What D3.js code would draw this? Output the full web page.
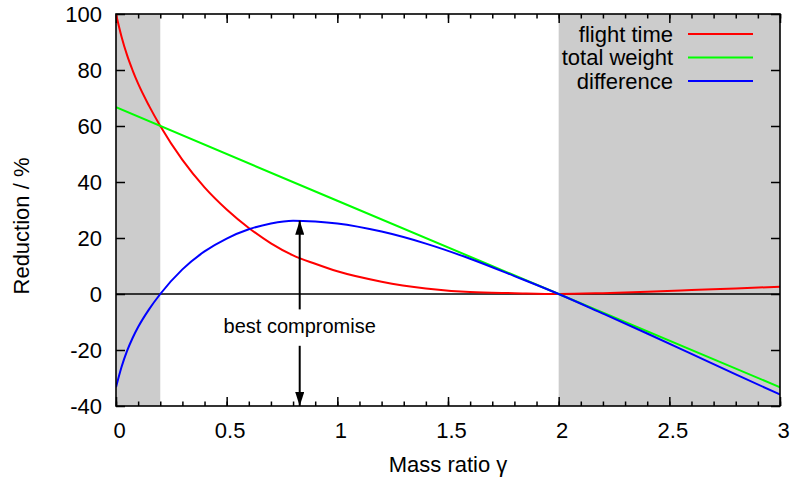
<!DOCTYPE html>
<html>
<head>
<meta charset="utf-8">
<script src="https://cdn.jsdelivr.net/npm/d3@7"></script>
<style>
  html, body { margin: 0; padding: 0; background: #fff; }
  svg { display: block; }
  text { font-family: "Liberation Sans", Arial, Helvetica, sans-serif; fill: #000; }
</style>
</head>
<body>
<svg id="chart" width="790" height="481"></svg>
<script>
// ---- data ----
const gamma = [0, 0.025, 0.05, 0.075, 0.1, 0.15, 0.2, 0.3, 0.4, 0.5, 0.6, 0.7, 0.8, 0.9, 1.0, 1.2, 1.4, 1.6, 1.8, 2.0, 2.2, 2.4, 2.6, 2.8, 3.0];
const flightTime = [100, 91.9, 85.3, 79.9, 75.1, 67.1, 60, 47.9, 38.1, 30.2, 23.6, 18.1, 13.8, 10.8, 8.1, 4.4, 2.0, 0.7, 0.3, 0, 0.3, 0.8, 1.4, 2.0, 2.6];
const difference = [-33.3, -26.05, -20.3, -15.7, -11.8, -5.4, 0, 8.8, 15.2, 19.8, 23.1, 25.2, 26.2, 25.9, 25.2, 22.3, 18.0, 12.6, 6.4, 0, -7.0, -14.1, -21.4, -28.7, -35.9];
const weightGamma = [0, 1, 2, 3];
const totalWeight = [66.7, 33.3, 0, -33.3];

const seriesNames = ["flight time", "total weight", "difference"];
const seriesColors = ["#ff0000", "#00ff00", "#0000ff"];

const shadedRanges = [[0, 0.2], [2, 3]];
const xTicks = [0, 0.5, 1, 1.5, 2, 2.5, 3];
const xTickLabels = ["0", "0.5", "1", "1.5", "2", "2.5", "3"];
const xMinorTicks = d3.range(0, 3.0001, 0.1);
const yTicks = [-40, -20, 0, 20, 40, 60, 80, 100];
const yTickLabels = ["-40", "-20", "0", "20", "40", "60", "80", "100"];

const bestGamma = 0.83;
const upperArrow = [-5.5, 26.2];   // tail, tip
const lowerArrow = [-18.5, -40];   // tail, tip
const annotation = "best compromise";
const annotationValue = -14;

// ---- layout ----
const svg = d3.select("#chart");
const L = 116, R = 780, T = 14, B = 406;
const x = d3.scaleLinear().domain([0, 3]).range([L, R]);
const y = d3.scaleLinear().domain([-40, 100]).range([B, T]);

svg.append("defs").append("clipPath").attr("id", "clip")
  .append("rect").attr("x", L).attr("y", T).attr("width", R - L).attr("height", B - T);

// shaded regions
svg.append("g").selectAll("rect").data(shadedRanges).join("rect")
  .attr("x", d => x(d[0])).attr("y", T)
  .attr("width", d => x(d[1]) - x(d[0])).attr("height", B - T)
  .attr("fill", "#cccccc");

// axes (ticks inward)
const tickFmt = (labels, ticks) => (d) => labels[ticks.indexOf(d)];
const gx = svg.append("g").attr("transform", `translate(0,${B})`)
  .call(d3.axisBottom(x).tickValues(xTicks).tickFormat(tickFmt(xTickLabels, xTicks)).tickSize(-9).tickPadding(16));
const gxm = svg.append("g").attr("transform", `translate(0,${B})`)
  .call(d3.axisBottom(x).tickValues(xMinorTicks).tickFormat("").tickSize(-4.5));
const gxt = svg.append("g").attr("transform", `translate(0,${T})`)
  .call(d3.axisTop(x).tickValues(xTicks).tickFormat("").tickSize(-9));
const gxtm = svg.append("g").attr("transform", `translate(0,${T})`)
  .call(d3.axisTop(x).tickValues(xMinorTicks).tickFormat("").tickSize(-4.5));
const gy = svg.append("g").attr("transform", `translate(${L},0)`)
  .call(d3.axisLeft(y).tickValues(yTicks).tickFormat(tickFmt(yTickLabels, yTicks)).tickSize(-9).tickPadding(14));
const gyr = svg.append("g").attr("transform", `translate(${R},0)`)
  .call(d3.axisRight(y).tickValues(yTicks).tickFormat("").tickSize(-9));

[gx, gxm, gxt, gxtm, gy, gyr].forEach(g => {
  g.select(".domain").remove();
  g.selectAll(".tick line").attr("stroke", "#000").attr("stroke-width", 1.5);
});
gx.selectAll(".tick text").attr("font-size", 22).attr("dx", 3).attr("fill", "#000");
gy.selectAll(".tick text").attr("font-size", 22).attr("dy", "0.35em").attr("fill", "#000");

// zero line
svg.append("line").attr("x1", L).attr("x2", R).attr("y1", y(0)).attr("y2", y(0))
  .attr("stroke", "#000").attr("stroke-width", 1.5);

// curves
const plot = svg.append("g").attr("clip-path", "url(#clip)");
const line = d3.line().x(d => x(d[0])).y(d => y(d[1])).curve(d3.curveMonotoneX);
const series = [
  gamma.map((g, i) => [g, flightTime[i]]),
  weightGamma.map((g, i) => [g, totalWeight[i]]),
  gamma.map((g, i) => [g, difference[i]])
];
series.forEach((s, i) => {
  plot.append("path").datum(s).attr("d", line)
    .attr("fill", "none").attr("stroke", seriesColors[i]).attr("stroke-width", 2);
});

// frame
svg.append("rect").attr("x", L).attr("y", T).attr("width", R - L).attr("height", B - T)
  .attr("fill", "none").attr("stroke", "#000").attr("stroke-width", 1.6);

// arrows
const defs = svg.select("defs");
defs.append("marker").attr("id", "ah").attr("viewBox", "0 0 10 10")
  .attr("refX", 10).attr("refY", 5).attr("markerWidth", 14).attr("markerHeight", 9)
  .attr("markerUnits", "userSpaceOnUse").attr("orient", "auto").attr("preserveAspectRatio", "none")
  .append("path").attr("d", "M0,0 L10,5 L0,10 Z").attr("fill", "#000");

[upperArrow, lowerArrow].forEach(a => {
  svg.append("line").attr("x1", x(bestGamma)).attr("x2", x(bestGamma))
    .attr("y1", y(a[0])).attr("y2", y(a[1]))
    .attr("stroke", "#000").attr("stroke-width", 2).attr("marker-end", "url(#ah)");
});
svg.append("text").attr("x", x(bestGamma)).attr("y", y(annotationValue))
  .attr("text-anchor", "middle").attr("font-size", 20).text(annotation);

// legend
const lg = svg.append("g");
seriesNames.forEach((name, i) => {
  const yy = 34 + i * 23.5;
  lg.append("text").attr("x", 673).attr("y", yy + 7.5).attr("text-anchor", "end")
    .attr("font-size", 22).text(name);
  lg.append("line").attr("x1", 688).attr("x2", 753).attr("y1", yy).attr("y2", yy)
    .attr("stroke", seriesColors[i]).attr("stroke-width", 2);
});

// axis titles
svg.append("text").attr("x", (L + R) / 2).attr("y", 472).attr("text-anchor", "middle")
  .attr("font-size", 22).text("Mass ratio γ");
svg.append("text").attr("transform", `translate(29,226) rotate(-90)`)
  .attr("text-anchor", "middle").attr("font-size", 22).text("Reduction / %");
</script>
</body>
</html>
